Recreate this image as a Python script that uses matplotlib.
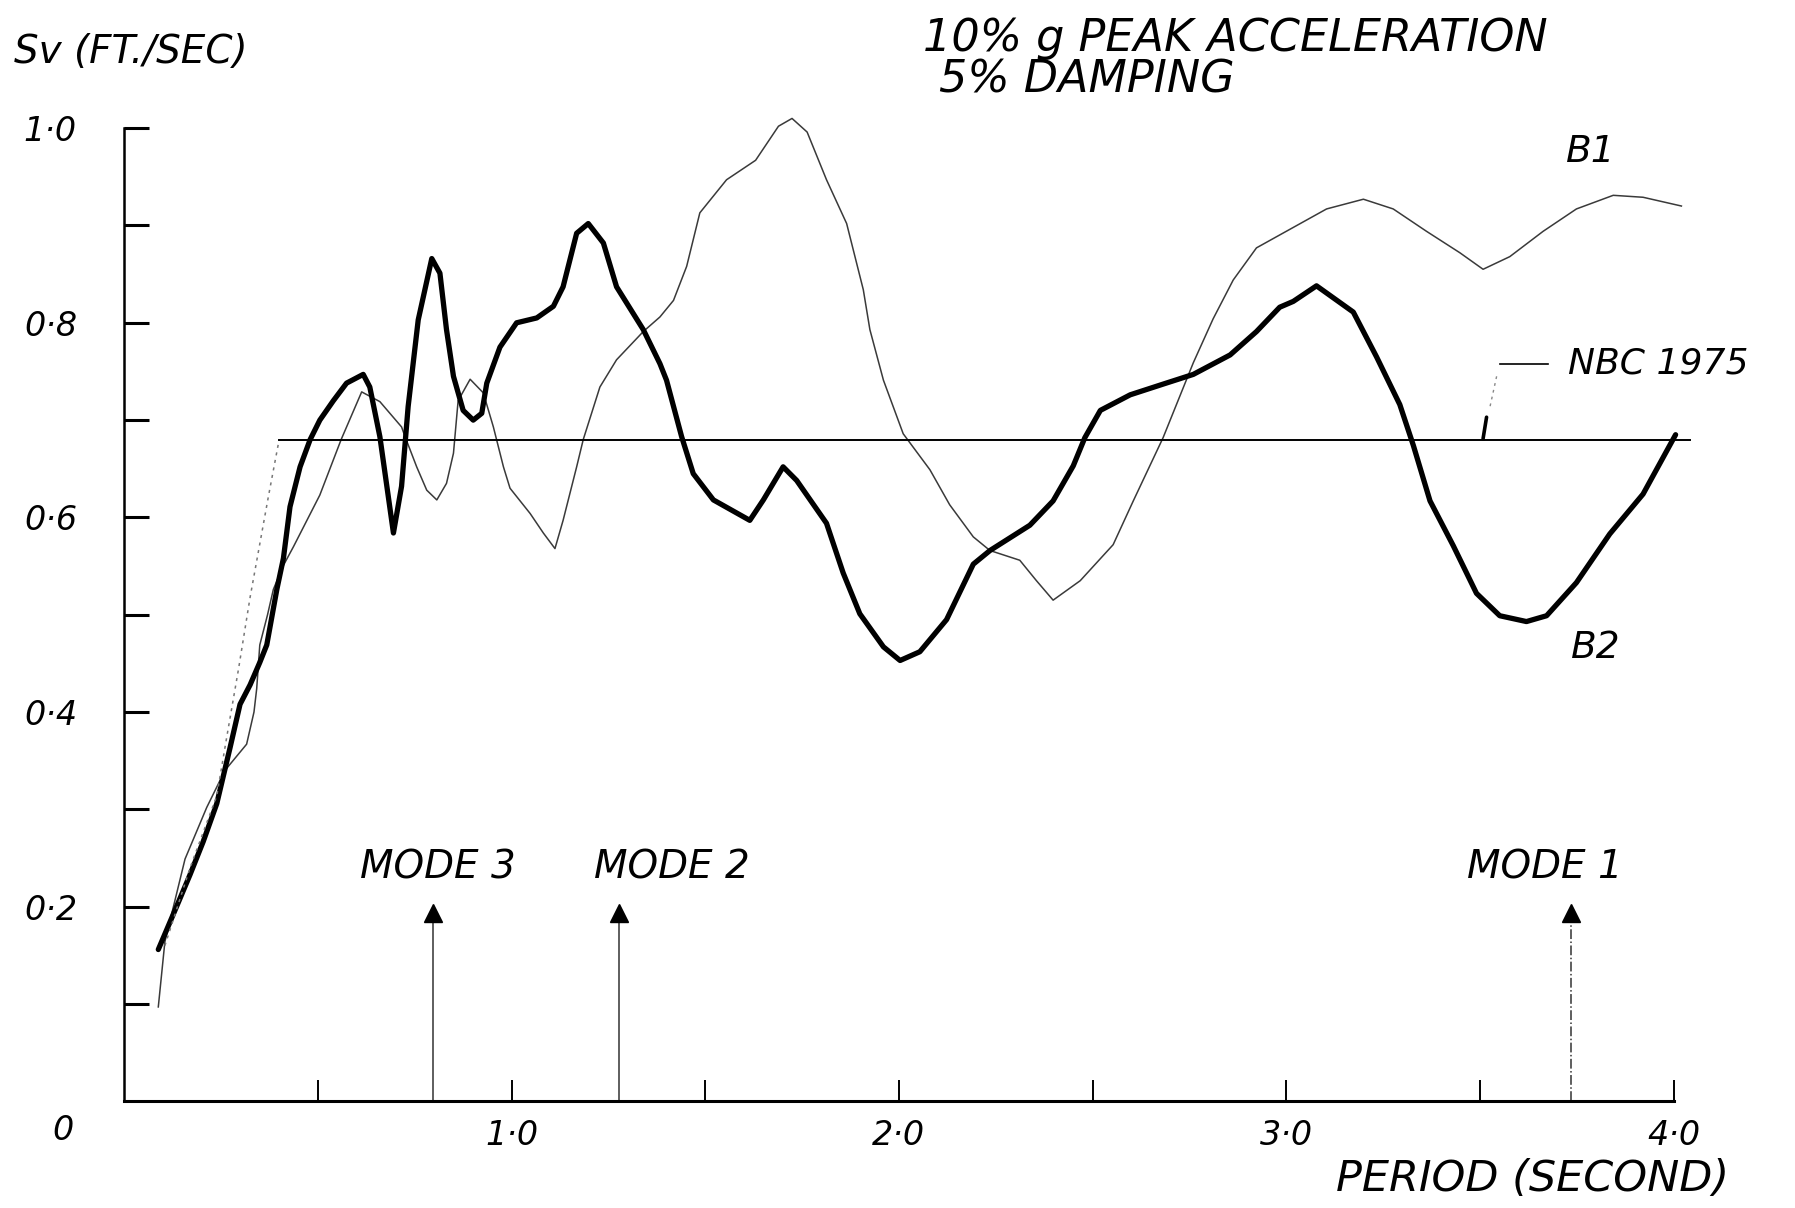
import matplotlib
matplotlib.use("Agg")
import matplotlib.pyplot as plt

# ---------------- data ----------------
b2_period = [0.088, 0.135, 0.17, 0.204, 0.239, 0.273, 0.299, 0.325, 0.35, 0.368,
             0.394, 0.411, 0.428, 0.454, 0.48, 0.505, 0.54, 0.574, 0.617, 0.634,
             0.66, 0.695, 0.716, 0.733, 0.759, 0.794, 0.815, 0.832, 0.85, 0.875,
             0.901, 0.923, 0.936, 0.97, 1.013, 1.065, 1.108, 1.133, 1.168, 1.198,
             1.237, 1.271, 1.34, 1.383, 1.40, 1.439, 1.469, 1.521, 1.615, 1.65,
             1.701, 1.736, 1.813, 1.856, 1.899, 1.96, 2.003, 2.054, 2.123, 2.192,
             2.235, 2.338, 2.398, 2.45, 2.48, 2.52, 2.597, 2.682, 2.76, 2.855,
             2.923, 2.983, 3.018, 3.078, 3.173, 3.233, 3.293, 3.328, 3.371, 3.431,
             3.491, 3.551, 3.62, 3.672, 3.749, 3.835, 3.921, 4.005]
b2_sv = [0.156, 0.200, 0.233, 0.267, 0.306, 0.363, 0.408, 0.428, 0.451, 0.469,
         0.526, 0.558, 0.611, 0.652, 0.680, 0.700, 0.720, 0.738, 0.747, 0.734,
         0.683, 0.584, 0.632, 0.714, 0.803, 0.866, 0.851, 0.793, 0.745, 0.710,
         0.700, 0.707, 0.738, 0.775, 0.800, 0.805, 0.817, 0.837, 0.892, 0.902,
         0.882, 0.837, 0.793, 0.758, 0.741, 0.683, 0.645, 0.618, 0.597, 0.618,
         0.652, 0.638, 0.594, 0.543, 0.501, 0.467, 0.453, 0.462, 0.495, 0.552,
         0.566, 0.592, 0.617, 0.653, 0.682, 0.710, 0.726, 0.737, 0.747, 0.767,
         0.791, 0.816, 0.822, 0.838, 0.811, 0.765, 0.716, 0.674, 0.617, 0.571,
         0.522, 0.499, 0.493, 0.499, 0.533, 0.583, 0.624, 0.685]

b1_period = [0.088, 0.105, 0.157, 0.213, 0.26, 0.316, 0.335, 0.342, 0.35, 0.37,
             0.385, 0.41, 0.437, 0.505, 0.56, 0.613, 0.66, 0.716, 0.725, 0.755,
             0.781, 0.807, 0.832, 0.85, 0.862, 0.893, 0.927, 0.953, 0.979, 0.996,
             1.048, 1.082, 1.112, 1.133, 1.168, 1.185, 1.228, 1.271, 1.34, 1.383,
             1.418, 1.452, 1.486, 1.555, 1.63, 1.689, 1.724, 1.763, 1.813, 1.865,
             1.908, 1.925, 1.96, 2.011, 2.08, 2.131, 2.192, 2.235, 2.312, 2.355,
             2.398, 2.468, 2.553, 2.605, 2.682, 2.76, 2.811, 2.863, 2.923, 3.018,
             3.104, 3.199, 3.276, 3.362, 3.448, 3.508, 3.577, 3.663, 3.749, 3.844,
             3.921, 4.02]
b1_sv = [0.097, 0.164, 0.249, 0.302, 0.340, 0.367, 0.400, 0.424, 0.469, 0.500,
         0.526, 0.550, 0.570, 0.623, 0.680, 0.729, 0.719, 0.693, 0.683, 0.652,
         0.628, 0.618, 0.635, 0.666, 0.720, 0.742, 0.728, 0.693, 0.652, 0.630,
         0.604, 0.584, 0.568, 0.597, 0.652, 0.680, 0.734, 0.762, 0.791, 0.806,
         0.823, 0.858, 0.913, 0.947, 0.967, 1.002, 1.010, 0.996, 0.947, 0.902,
         0.834, 0.793, 0.741, 0.686, 0.649, 0.613, 0.580, 0.566, 0.556, 0.535,
         0.515, 0.535, 0.572, 0.617, 0.682, 0.759, 0.804, 0.844, 0.877, 0.898,
         0.917, 0.927, 0.917, 0.894, 0.872, 0.855, 0.868, 0.894, 0.917, 0.931,
         0.929, 0.920]

nbc_ramp_period = [0.105, 0.17, 0.239, 0.265, 0.295, 0.325, 0.372, 0.40]
nbc_ramp_sv = [0.160, 0.240, 0.314, 0.375, 0.444, 0.518, 0.621, 0.680]
nbc_flat_period = [0.40, 4.042]
nbc_flat_sv = [0.68, 0.68]

mode_periods = [0.796, 1.278, 3.734]
mode_names = ["MODE 3", "MODE 2", "MODE 1"]

x_tick_labels = ["1·0", "2·0", "3·0", "4·0"]
y_tick_labels = ["0·2", "0·4", "0·6", "0·8", "1·0"]

# ---------------- figure ----------------
FONT = {"family": "DejaVu Sans", "style": "italic"}
plt.rcParams["font.family"] = "DejaVu Sans"

fig = plt.figure(figsize=(17.95, 12.08), dpi=100)
ax = fig.add_axes([0.0692, 0.0883, 0.8632, 0.8056])
ax.set_xlim(0, 4.0)
ax.set_ylim(0, 1.0)

for s in ("top", "right"):
    ax.spines[s].set_visible(False)
ax.spines["left"].set_linewidth(1.8)
ax.spines["bottom"].set_linewidth(2.2)

ax.set_xticks([0.5, 1.0, 1.5, 2.0, 2.5, 3.0, 3.5, 4.0])
ax.set_xticklabels(["", x_tick_labels[0], "", x_tick_labels[1], "",
                    x_tick_labels[2], "", x_tick_labels[3]], **FONT)
ax.set_yticks([0.1, 0.2, 0.3, 0.4, 0.5, 0.6, 0.7, 0.8, 0.9, 1.0])
ax.set_yticklabels(["", y_tick_labels[0], "", y_tick_labels[1], "",
                    y_tick_labels[2], "", y_tick_labels[3], "", y_tick_labels[4]], **FONT)
ax.tick_params(axis="x", direction="in", length=15, width=1.4, pad=13, labelsize=24)
ax.tick_params(axis="y", direction="in", length=18, width=2.2, pad=34, labelsize=24)

# curves
ax.plot(b1_period, b1_sv, color="#3a3a3a", lw=1.1, clip_on=False, solid_joinstyle="round")
ax.plot(b2_period, b2_sv, color="black", lw=3.8, clip_on=False,
        solid_joinstyle="round", solid_capstyle="round")
ax.plot(nbc_ramp_period, nbc_ramp_sv, color="#777777", lw=1.1, ls=(0, (2, 3)), clip_on=False)
ax.plot(nbc_flat_period, nbc_flat_sv, color="black", lw=1.4, clip_on=False)

# NBC leader
ax.plot([3.551, 3.676], [0.758, 0.758], color="black", lw=1.2, clip_on=False)
ax.plot([3.543, 3.526], [0.745, 0.714], color="#888888", lw=1.0, ls=(0, (2, 3)), clip_on=False)
ax.plot([3.517, 3.508], [0.703, 0.681], color="black", lw=2.6, clip_on=False,
        solid_capstyle="round")
ax.text(3.728, 0.758, "NBC 1975", ha="left", va="center", fontsize=26, **FONT)

# curve labels
ax.text(3.785, 0.975, "B1", ha="center", va="center", fontsize=27, **FONT)
ax.text(3.80, 0.466, "B2", ha="center", va="center", fontsize=27, **FONT)

# mode markers
label_offsets = [0.015, 0.136, -0.067]
for p, name, off in zip(mode_periods, mode_names, label_offsets):
    ls = "-." if name == "MODE 1" else "-"
    ax.plot([p, p], [0.0, 0.183], color="#333333", lw=1.1, ls=ls, clip_on=False)
    ax.plot([p], [0.194], marker="^", markersize=13, color="black", clip_on=False)
    ax.text(p + off, 0.24, name, ha="center", va="center", fontsize=28, **FONT)

# axis origin label and axis titles
fig.text(63 / 1795, 1 - 1130 / 1208, "0", ha="center", va="center", fontsize=24, **FONT)
fig.text(14 / 1795, 1 - 52 / 1208, "Sv (FT./SEC)", ha="left", va="center", fontsize=28, **FONT)
fig.text(1729 / 1795, 1 - 1179 / 1208, "PERIOD (SECOND)", ha="right", va="center",
         fontsize=31, **FONT)
fig.text(923 / 1795, 1 - 38 / 1208, "10% g PEAK ACCELERATION", ha="left", va="center",
         fontsize=32, **FONT)
fig.text(939 / 1795, 1 - 80 / 1208, "5% DAMPING", ha="left", va="center",
         fontsize=32, **FONT)

fig.savefig("out.png", dpi=100, facecolor="white")
